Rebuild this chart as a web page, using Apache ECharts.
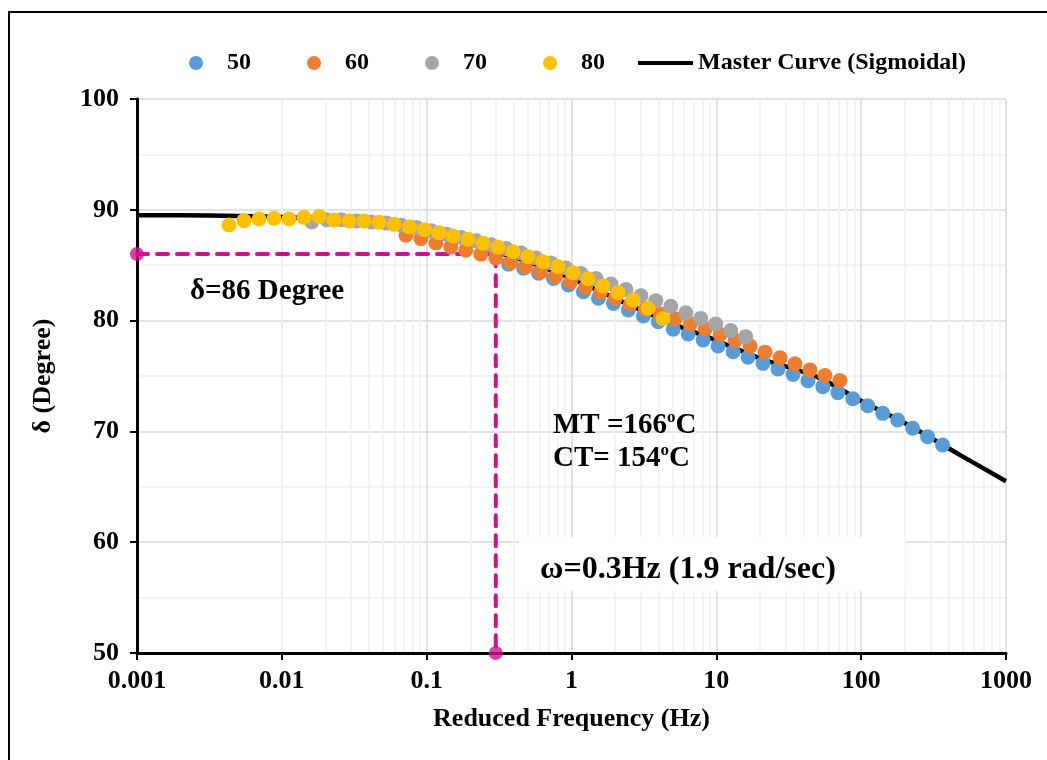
<!DOCTYPE html>
<html>
<head>
<meta charset="utf-8">
<script src="https://cdn.jsdelivr.net/npm/echarts@6/dist/echarts.min.js"></script>
<style>
html,body{margin:0;padding:0;background:#fff;}
#chart{width:1047px;height:760px;}
</style>
</head>
<body>
<div id="chart"></div>
<script>
// ---- Data ----
var xTickLabels = ['0.001', '0.01', '0.1', '1', '10', '100', '1000'];
var yTickLabels = [50, 60, 70, 80, 90, 100];

var freq50 = [0.368, 0.4668, 0.5922, 0.7513, 0.9531, 1.209, 1.534, 1.946, 2.469, 3.132,
  3.973, 5.040, 6.394, 8.112, 10.29, 13.05, 16.56, 21.01, 26.65, 33.81,
  42.89, 54.41, 69.03, 87.57, 111.1, 140.9, 178.8, 226.8, 287.7, 365.0];
var delta50 = [85.1, 84.72, 84.27, 83.8, 83.21, 82.61, 82.02, 81.55, 80.96, 80.42,
  79.9, 79.22, 78.79, 78.25, 77.71, 77.19, 76.69, 76.14, 75.63, 75.13,
  74.57, 74.04, 73.5, 72.95, 72.32, 71.63, 71.03, 70.28, 69.52, 68.77];

var freq60 = [0.0719, 0.0912, 0.1157, 0.1468, 0.1862, 0.2362, 0.2997, 0.3802, 0.4823, 0.6119,
  0.7762, 0.9847, 1.249, 1.585, 2.010, 2.550, 3.235, 4.104, 5.207, 6.605,
  8.380, 10.63, 13.49, 17.11, 21.70, 27.53, 34.93, 44.31, 56.21, 71.31];
var delta60 = [87.7, 87.4, 87.0, 86.65, 86.35, 86.0, 85.65, 85.25, 84.85, 84.4,
  83.95, 83.5, 83.0, 82.55, 82.05, 81.5, 81.05, 80.6, 80.15, 79.7,
  79.25, 78.75, 78.2, 77.7, 77.15, 76.65, 76.1, 75.55, 75.05, 74.6];

var freq70 = [0.0161, 0.0204, 0.0258, 0.0328, 0.0416, 0.0528, 0.0669, 0.0849, 0.1077, 0.1367,
  0.1734, 0.2200, 0.2790, 0.3540, 0.4491, 0.5697, 0.7227, 0.9168, 1.163, 1.476,
  1.872, 2.375, 3.012, 3.822, 4.848, 6.150, 7.802, 9.898, 12.56, 15.93];
var delta70 = [88.9, 89.1, 89.1, 89.0, 88.9, 88.8, 88.6, 88.4, 88.1, 87.8,
  87.5, 87.2, 86.85, 86.5, 86.1, 85.65, 85.2, 84.75, 84.25, 83.8,
  83.3, 82.8, 82.25, 81.8, 81.3, 80.7, 80.2, 79.7, 79.1, 78.55];

var freq80 = [0.00432, 0.00548, 0.00696, 0.00883, 0.0112, 0.0142, 0.0181, 0.0229, 0.0291, 0.0369,
  0.0469, 0.0595, 0.0761, 0.0966, 0.1217, 0.1520, 0.1929, 0.2449, 0.3110, 0.3947,
  0.5008, 0.6357, 0.8070, 1.024, 1.300, 1.651, 2.095, 2.659, 3.375, 4.284];
var delta80 = [88.63, 89.02, 89.17, 89.23, 89.17, 89.32, 89.41, 89.08, 88.99, 88.99,
  88.87, 88.69, 88.45, 88.21, 87.93, 87.64, 87.34, 86.98, 86.62, 86.22,
  85.77, 85.32, 84.87, 84.32, 83.78, 83.12, 82.52, 81.86, 81.11, 80.17];

var masterFreq = [0.001, 0.002, 0.005, 0.01, 0.02, 0.05, 0.1, 0.2, 0.3, 0.5,
  1, 2, 5, 10, 20, 50, 100, 200, 500, 1000];
var masterDelta = [89.5, 89.5, 89.45, 89.35, 89.1, 88.5, 87.85, 86.9, 86.2, 85.3,
  83.8, 82.0, 79.7, 78.2, 76.6, 74.9, 72.75, 70.75, 67.75, 65.5];

var guideFreq = [0.001, 0.3, 0.3];
var guideDelta = [86, 86, 50];

// ---- Build ----
function pairs(xs, ys) { return xs.map(function (x, i) { return [x, ys[i]]; }); }

var minorX = [];
[0.001, 0.01, 0.1, 1, 10, 100].forEach(function (d) {
  for (var m = 2; m <= 9; m++) minorX.push({ xAxis: +(d * m).toPrecision(3) });
});

var FONT = 'Liberation Serif';
var MAG = '#D1108F';
var chart = echarts.init(document.getElementById('chart'));
var legendStyle = { fontFamily: FONT, fontWeight: 'bold', fontSize: 24, color: '#000' };
var tickStyle = { fontFamily: FONT, fontWeight: 'bold', fontSize: 26, color: '#000' };
var titleStyle = { fontFamily: FONT, fontWeight: 'bold', fontSize: 26, color: '#000' };

chart.setOption({
  animation: false,
  backgroundColor: '#fff',
  grid: { left: 137, right: 41, top: 99, bottom: 107, containLabel: false },
  legend: [{
    data: ['50', '60', '70', '80'],
    icon: 'circle', itemWidth: 14, itemHeight: 14, itemGap: 56,
    left: 184, top: 46,
    textStyle: Object.assign({ padding: [0, 0, 0, 19] }, legendStyle)
  }, {
    data: ['Master Curve (Sigmoidal)'],
    icon: 'rect', itemWidth: 55, itemHeight: 4,
    left: 633, top: 46,
    textStyle: legendStyle
  }],
  xAxis: {
    type: 'log', logBase: 10, min: 0.001, max: 1000,
    name: 'Reduced Frequency (Hz)', nameLocation: 'middle', nameGap: 53,
    nameTextStyle: titleStyle,
    axisLine: { show: true, onZero: false, lineStyle: { color: '#000', width: 3 } },
    axisTick: { show: true, inside: false, length: 7, lineStyle: { color: '#000', width: 2 } },
    axisLabel: Object.assign({ margin: 15, formatter: function (v) {
      var i = Math.round(Math.log10(v)) + 3; return xTickLabels[i];
    } }, tickStyle),
    splitLine: { show: true, lineStyle: { color: '#d9d9d9', width: 1.5 } }
  },
  yAxis: {
    type: 'value', min: 50, max: 100, interval: 10,
    name: 'δ (Degree)', nameLocation: 'middle', nameGap: 81, nameRotate: 90,
    nameTextStyle: titleStyle,
    axisLine: { show: true, lineStyle: { color: '#000', width: 3 } },
    axisTick: { show: true, inside: false, length: 7, lineStyle: { color: '#000', width: 2 } },
    axisLabel: Object.assign({ margin: 18, formatter: function (v) {
      return yTickLabels.indexOf(v) >= 0 ? String(v) : '';
    } }, tickStyle),
    splitLine: { show: true, lineStyle: { color: '#d9d9d9', width: 1.5 } },
    minorTick: { show: false, splitNumber: 2 },
    minorSplitLine: { show: true, lineStyle: { color: '#efefef', width: 1.5 } }
  },
  series: [
    {
      type: 'line', data: [], silent: true, z: 0,
      markLine: {
        z: 0, silent: true, symbol: 'none', label: { show: false }, animation: false,
        lineStyle: { color: '#efefef', type: 'solid', width: 1.5 },
        data: minorX
      }
    },
    {
      name: 'Master Curve (Sigmoidal)', type: 'line', data: pairs(masterFreq, masterDelta),
      smooth: 0.3, symbol: 'none', clip: false, z: 2,
      itemStyle: { color: '#000' },
      lineStyle: { color: '#000', width: 4.5 }
    },
    {
      type: 'line', data: pairs(guideFreq, guideDelta), symbol: 'none', clip: false, z: 3,
      lineStyle: { color: MAG, width: 4, type: [11, 9], cap: 'round' }
    },
    {
      type: 'scatter', data: [[guideFreq[0], guideDelta[0]], [guideFreq[2], guideDelta[2]]],
      symbolSize: 14, clip: false, z: 4, itemStyle: { color: MAG }
    },
    { name: '50', type: 'scatter', data: pairs(freq50, delta50), symbolSize: 15, z: 5, itemStyle: { color: '#5B9BD5', opacity: 1 } },
    { name: '60', type: 'scatter', data: pairs(freq60, delta60), symbolSize: 15, z: 6, itemStyle: { color: '#ED7D31', opacity: 1 } },
    { name: '70', type: 'scatter', data: pairs(freq70, delta70), symbolSize: 15, z: 7, itemStyle: { color: '#A5A5A5', opacity: 1 } },
    { name: '80', type: 'scatter', data: pairs(freq80, delta80), symbolSize: 15, z: 8, itemStyle: { color: '#FFC000', opacity: 1 } }
  ],
  graphic: [
    { type: 'rect', z: 100, silent: true, shape: { x: 9, y: 12, width: 1200, height: 900 },
      style: { fill: 'none', stroke: '#000', lineWidth: 2 } },
    { type: 'text', z: 100, left: 190, top: 277,
      style: { text: 'δ=86 Degree', font: 'bold 29px "Liberation Serif"', fill: '#000' } },
    { type: 'text', z: 100, left: 553, top: 409,
      style: {
        text: '{a|MT =166}{s|o}{a|C}\n{a|CT= 154}{s|o}{a|C}',
        rich: {
          a: { font: 'bold 29px "Liberation Serif"', fill: '#000', lineHeight: 33 },
          s: { font: 'bold 17px "Liberation Serif"', fill: '#000', verticalAlign: 'top', lineHeight: 33 }
        }
      } },
    { type: 'rect', z: 99, silent: true, shape: { x: 519, y: 537, width: 386, height: 54 },
      style: { fill: '#fff' } },
    { type: 'text', z: 100, left: 540, top: 554,
      style: { text: 'ω=0.3Hz (1.9 rad/sec)', font: 'bold 32px "Liberation Serif"', fill: '#000' } }
  ]
});
</script>
</body>
</html>
